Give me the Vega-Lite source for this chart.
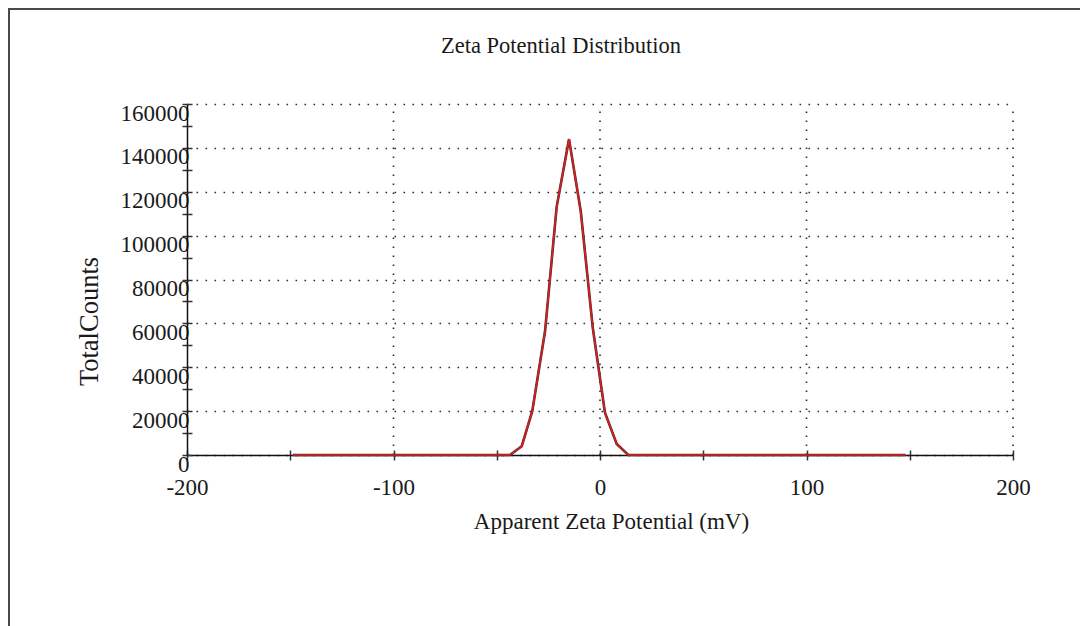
{
  "$schema": "https://vega.github.io/schema/vega-lite/v6.json",
  "width": 1080,
  "height": 626,
  "autosize": {"type": "none"},
  "padding": {"left": 9, "top": 9, "right": 0, "bottom": 0},
  "background": "white",
  "config": {
    "font": "Liberation Serif",
    "view": {"stroke": "#4a4a4a", "strokeWidth": 2},
    "axis": {
      "labelFont": "Liberation Serif",
      "titleFont": "Liberation Serif",
      "labelColor": "#1a1a1a",
      "titleColor": "#1a1a1a",
      "titleFontWeight": "normal",
      "domainColor": "#111111",
      "domainWidth": 1.5,
      "tickColor": "#333333",
      "tickWidth": 1.5,
      "labelOverlap": false,
      "labelFlush": false,
      "labelBound": false
    }
  },
  "title": {
    "text": "Zeta Potential Distribution",
    "font": "Liberation Serif",
    "fontSize": 22.5,
    "fontWeight": "normal",
    "color": "#1a1a1a",
    "anchor": "middle",
    "frame": "group",
    "baseline": "middle",
    "offset": -59,
    "dx": 12
  },
  "datasets": {
    "gridX": [
      {"gx": -100},
      {"gx": 0},
      {"gx": 100},
      {"gx": 200}
    ]
  },
  "data": {
    "values": [
      {"mv": -148.8, "counts": 0},
      {"mv": -143.0, "counts": 0},
      {"mv": -137.1, "counts": 0},
      {"mv": -131.3, "counts": 0},
      {"mv": -125.4, "counts": 0},
      {"mv": -119.6, "counts": 0},
      {"mv": -113.7, "counts": 0},
      {"mv": -107.9, "counts": 0},
      {"mv": -102.1, "counts": 0},
      {"mv": -96.2, "counts": 0},
      {"mv": -90.4, "counts": 0},
      {"mv": -84.5, "counts": 0},
      {"mv": -78.7, "counts": 0},
      {"mv": -72.8, "counts": 0},
      {"mv": -67.0, "counts": 0},
      {"mv": -61.1, "counts": 0},
      {"mv": -55.3, "counts": 0},
      {"mv": -49.5, "counts": 0},
      {"mv": -43.6, "counts": 0},
      {"mv": -37.9, "counts": 4000},
      {"mv": -32.8, "counts": 20000},
      {"mv": -26.6, "counts": 56500},
      {"mv": -21.0, "counts": 113000},
      {"mv": -15.0, "counts": 144000},
      {"mv": -9.3, "counts": 111000},
      {"mv": -3.5, "counts": 58000},
      {"mv": 2.4, "counts": 19300},
      {"mv": 8.1, "counts": 5000},
      {"mv": 13.7, "counts": 0},
      {"mv": 19.5, "counts": 0},
      {"mv": 25.4, "counts": 0},
      {"mv": 31.2, "counts": 0},
      {"mv": 37.0, "counts": 0},
      {"mv": 42.9, "counts": 0},
      {"mv": 48.7, "counts": 0},
      {"mv": 54.5, "counts": 0},
      {"mv": 60.4, "counts": 0},
      {"mv": 66.2, "counts": 0},
      {"mv": 72.0, "counts": 0},
      {"mv": 77.9, "counts": 0},
      {"mv": 83.7, "counts": 0},
      {"mv": 89.6, "counts": 0},
      {"mv": 95.4, "counts": 0},
      {"mv": 101.2, "counts": 0},
      {"mv": 107.1, "counts": 0},
      {"mv": 112.9, "counts": 0},
      {"mv": 118.7, "counts": 0},
      {"mv": 124.6, "counts": 0},
      {"mv": 130.4, "counts": 0},
      {"mv": 136.2, "counts": 0},
      {"mv": 142.1, "counts": 0},
      {"mv": 147.9, "counts": 0}
    ]
  },
  "layer": [
    {
      "data": {"name": "gridX"},
      "mark": {"type": "rule", "stroke": "#2a2a2a", "strokeWidth": 1.6, "strokeDash": [1.6, 7.4]},
      "encoding": {
        "x": {
          "field": "gx",
          "type": "quantitative",
          "scale": {"domain": [-200, 200], "range": [178, 1004], "nice": false, "zero": false},
          "axis": null
        },
        "y": {"datum": 0, "type": "quantitative", "axis": null},
        "y2": {"datum": 160000}
      }
    },
    {
      "mark": {"type": "line", "stroke": "#4a2a2a", "strokeWidth": 2.6},
      "encoding": {
        "x": {
          "field": "mv",
          "type": "quantitative",
          "scale": {"domain": [-200, 200], "range": [178, 1004], "nice": false, "zero": false},
          "axis": {
            "orient": "bottom",
            "offset": -180,
            "values": [-200, -150, -100, -50, 0, 50, 100, 150, 200],
            "tickSize": 5,
            "labelFontSize": 23,
            "labelPadding": 16,
            "labelExpr": "datum.value % 100 === 0 ? '' + datum.value : ''",
            "grid": false,
            "title": "Apparent Zeta Potential (mV)",
            "titleFontSize": 23,
            "titleAnchor": null,
            "titleAlign": "center",
            "titleBaseline": "middle",
            "titleX": 602,
            "titleY": 66
          }
        },
        "y": {
          "field": "counts",
          "type": "quantitative",
          "scale": {"domain": [0, 160000], "range": [446, 95], "nice": false},
          "axis": {
            "orient": "left",
            "offset": -178,
            "values": [0, 10000, 20000, 30000, 40000, 50000, 60000, 70000, 80000, 90000, 100000, 110000, 120000, 130000, 140000, 150000, 160000],
            "tickSize": 5,
            "labelFontSize": 23,
            "labelPadding": -7,
            "labelBaseline": "top",
            "labelOffset": -2,
            "labelExpr": "datum.value % 20000 === 0 ? '' + datum.value : ''",
            "grid": true,
            "gridColor": "#2a2a2a",
            "gridWidth": 1.6,
            "gridDash": [1.6, 7.4],
            "gridOpacity": {"condition": {"test": "datum.value % 20000 === 0", "value": 1}, "value": 0},
            "title": "TotalCounts",
            "titleFontSize": 26.5,
            "titleAngle": -90,
            "titleAnchor": null,
            "titleAlign": "center",
            "titleBaseline": "middle",
            "titleX": -98,
            "titleY": 312
          }
        }
      }
    },
    {
      "mark": {"type": "line", "stroke": "#d42020", "strokeWidth": 1.7},
      "encoding": {
        "x": {
          "field": "mv",
          "type": "quantitative",
          "scale": {"domain": [-200, 200], "range": [178, 1004], "nice": false, "zero": false},
          "axis": {
            "orient": "bottom",
            "offset": -180,
            "values": [-200, -150, -100, -50, 0, 50, 100, 150, 200],
            "tickSize": -5,
            "labels": false,
            "domain": false,
            "grid": false,
            "title": null
          }
        },
        "y": {
          "field": "counts",
          "type": "quantitative",
          "scale": {"domain": [0, 160000], "range": [446, 95], "nice": false},
          "axis": {
            "orient": "left",
            "offset": -178,
            "values": [0, 10000, 20000, 30000, 40000, 50000, 60000, 70000, 80000, 90000, 100000, 110000, 120000, 130000, 140000, 150000, 160000],
            "tickSize": -5,
            "labels": false,
            "domain": false,
            "grid": false,
            "title": null
          }
        }
      }
    }
  ],
  "resolve": {"axis": {"x": "independent", "y": "independent"}}
}
